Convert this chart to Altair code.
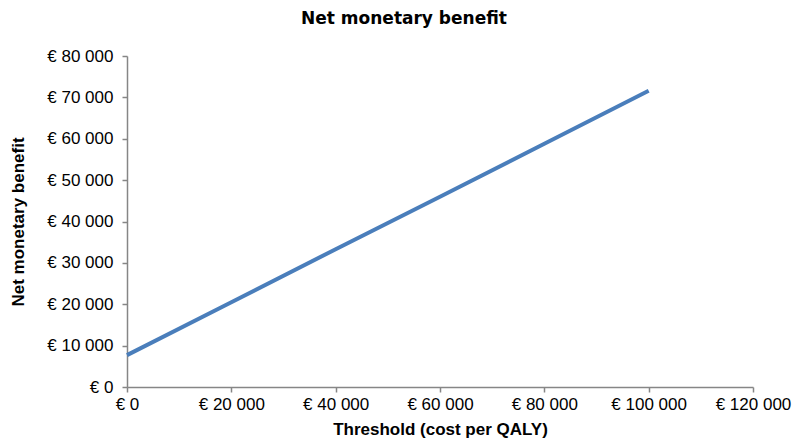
import altair as alt
import pandas as pd

# Net monetary benefit at each willingness-to-pay threshold (EUR per QALY)
thresholds = [0, 20000, 40000, 60000, 80000, 100000]
nmb_values = [7700, 20500, 33300, 46000, 58800, 71600]

df = pd.DataFrame({"threshold": thresholds, "nmb": nmb_values})

euro_fmt = "'€ ' + replace(format(datum.value, ','), regexp(',', 'g'), ' ')"

axis_common = dict(
    domainColor="#868686",
    tickColor="#868686",
    domainWidth=1.5,
    tickWidth=1.5,
    tickSize=5,
    grid=False,
    labelFont="Liberation Sans",
    labelFontSize=17,
    labelColor="#000000",
    labelOverlap=False,
    labelFlush=False,
    titleFont="Liberation Sans",
    titleFontSize=17,
    titleFontWeight="bold",
    titleColor="#000000",
    labelExpr=euro_fmt,
)

chart = (
    alt.Chart(df)
    .mark_line(color="#4A7EBB", strokeWidth=4)
    .encode(
        x=alt.X(
            "threshold:Q",
            title="Threshold (cost per QALY)",
            scale=alt.Scale(domain=[0, 120000], nice=False),
            axis=alt.Axis(values=list(range(0, 120001, 20000)), labelPadding=4,
                          titleY=34, **axis_common),
        ),
        y=alt.Y(
            "nmb:Q",
            title="Net monetary benefit",
            scale=alt.Scale(domain=[0, 80000], nice=False),
            axis=alt.Axis(values=list(range(0, 80001, 10000)), labelPadding=9,
                          titleX=-100, **axis_common),
        ),
    )
    .properties(
        width=626,
        height=331,
        title=alt.TitleParams(
            "Net monetary benefit",
            font="DejaVu Sans",
            fontSize=17,
            fontWeight="bold",
            color="#000000",
            anchor="middle",
            dx=-36,
            offset=19,
        ),
        autosize=alt.AutoSizeParams(type="none"),
        padding={"left": 127, "top": 56, "right": 40, "bottom": 59},
    )
    .configure_view(stroke=None)
)

chart.save("out.html", embed_options={"renderer": "svg", "actions": False})
